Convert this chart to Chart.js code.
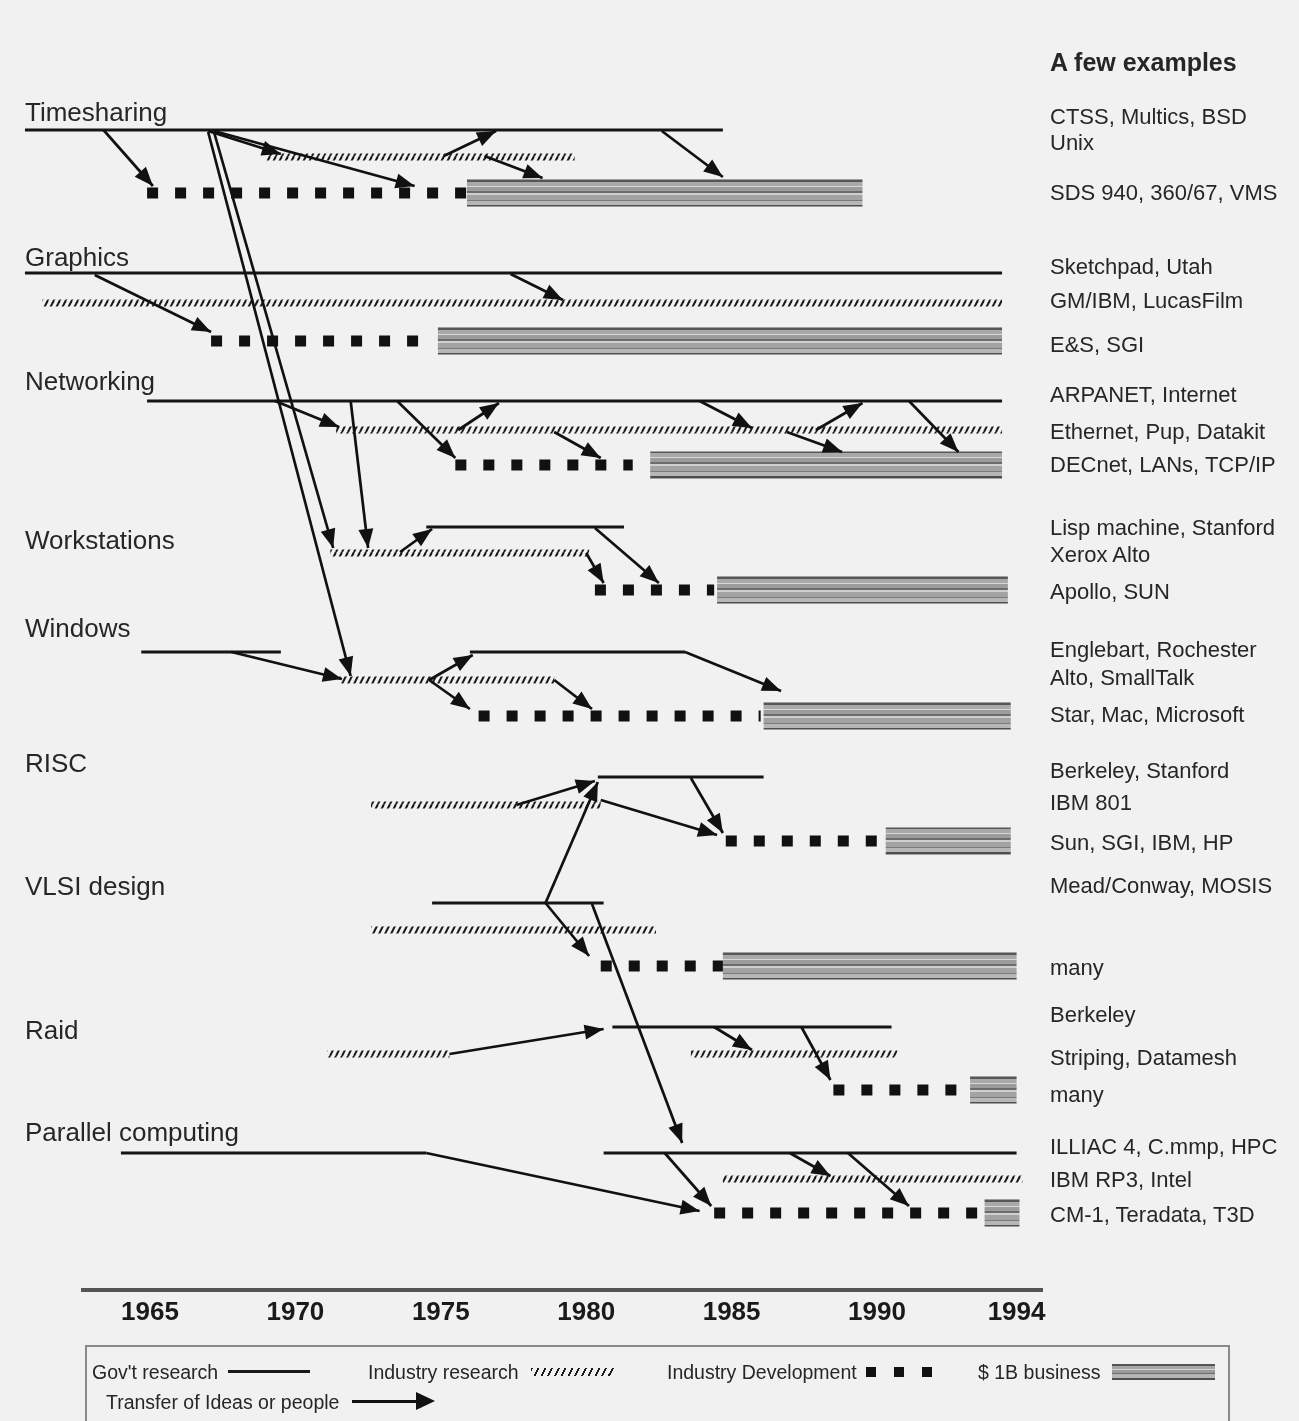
<!DOCTYPE html>
<html>
<head>
<meta charset="utf-8">
<script src="https://cdn.jsdelivr.net/npm/chart.js@4"></script>
<style>
  html,body{margin:0;padding:0;background:#f1f1f1;}
  #wrap{position:relative;width:1299px;height:1421px;overflow:hidden;background:#f1f1f1;
        font-family:"Liberation Sans", Arial, sans-serif;color:#262626;}
  #c{position:absolute;left:0;top:0;}
  .t{position:absolute;white-space:nowrap;font-size:26px;line-height:26px;}
  .e{position:absolute;white-space:nowrap;font-size:22px;line-height:22px;left:1050px;}
  .h{position:absolute;white-space:nowrap;font-size:25px;line-height:25px;font-weight:bold;left:1050px;top:50px;}
  .lg{position:absolute;white-space:nowrap;font-size:19.5px;line-height:20px;}
  #legend{position:absolute;left:85px;top:1345px;width:1141px;height:120px;border:2px solid #8a8a8a;}
</style>
</head>
<body>
<div id="wrap">
  <canvas id="c" width="1299" height="1421"></canvas>

  <div class="t" style="left:25px;top:99px">Timesharing</div>
  <div class="t" style="left:25px;top:244px">Graphics</div>
  <div class="t" style="left:25px;top:368px">Networking</div>
  <div class="t" style="left:25px;top:527px">Workstations</div>
  <div class="t" style="left:25px;top:615px">Windows</div>
  <div class="t" style="left:25px;top:750px">RISC</div>
  <div class="t" style="left:25px;top:873px">VLSI design</div>
  <div class="t" style="left:25px;top:1017px">Raid</div>
  <div class="t" style="left:25px;top:1119px">Parallel computing</div>

  <div class="h">A few examples</div>
  <div class="e" style="top:106px">CTSS, Multics, BSD</div>
  <div class="e" style="top:132px">Unix</div>
  <div class="e" style="top:182px">SDS 940, 360/67, VMS</div>
  <div class="e" style="top:256px">Sketchpad, Utah</div>
  <div class="e" style="top:290px">GM/IBM, LucasFilm</div>
  <div class="e" style="top:334px">E&amp;S, SGI</div>
  <div class="e" style="top:384px">ARPANET, Internet</div>
  <div class="e" style="top:421px">Ethernet, Pup, Datakit</div>
  <div class="e" style="top:454px">DECnet, LANs, TCP/IP</div>
  <div class="e" style="top:517px">Lisp machine, Stanford</div>
  <div class="e" style="top:544px">Xerox Alto</div>
  <div class="e" style="top:581px">Apollo, SUN</div>
  <div class="e" style="top:639px">Englebart, Rochester</div>
  <div class="e" style="top:667px">Alto, SmallTalk</div>
  <div class="e" style="top:704px">Star, Mac, Microsoft</div>
  <div class="e" style="top:760px">Berkeley, Stanford</div>
  <div class="e" style="top:792px">IBM 801</div>
  <div class="e" style="top:832px">Sun, SGI, IBM, HP</div>
  <div class="e" style="top:875px">Mead/Conway, MOSIS</div>
  <div class="e" style="top:957px">many</div>
  <div class="e" style="top:1004px">Berkeley</div>
  <div class="e" style="top:1047px">Striping, Datamesh</div>
  <div class="e" style="top:1084px">many</div>
  <div class="e" style="top:1136px">ILLIAC 4, C.mmp, HPC</div>
  <div class="e" style="top:1169px">IBM RP3, Intel</div>
  <div class="e" style="top:1204px">CM-1, Teradata, T3D</div>

  <div id="legend"></div>
  <div class="lg" style="left:92px;top:1362px">Gov't research</div>
  <div style="position:absolute;left:228px;top:1370px;width:82px;height:3px;background:#1a1a1a"></div>
  <div class="lg" style="left:368px;top:1362px">Industry research</div>
  <div style="position:absolute;left:531px;top:1368px;width:84px;height:8px;background:repeating-linear-gradient(117deg,#1a1a1a 0 1.8px,transparent 1.8px 6px)"></div>
  <div class="lg" style="left:667px;top:1362px">Industry Development</div>
  <div style="position:absolute;left:866px;top:1367px;width:76px;height:10px;background:repeating-linear-gradient(90deg,#111 0 10px,transparent 10px 28px)"></div>
  <div class="lg" style="left:978px;top:1362px">$ 1B business</div>
  <div style="position:absolute;left:1112px;top:1364px;width:103px;height:16px;background:linear-gradient(180deg,#555 0 2px,#a6a6a6 2px 5px,#d6d6d6 5px 6px,#9a9a9a 6px 9px,#6e6e6e 9px 10px,#b4b4b4 10px 14px,#4e4e4e 14px 16px)"></div>
  <div class="lg" style="left:106px;top:1392px">Transfer of Ideas or people</div>
  <div style="position:absolute;left:352px;top:1400px;width:66px;height:3px;background:#111"></div>
  <div style="position:absolute;left:416px;top:1392px;width:0;height:0;border-top:9px solid transparent;border-bottom:9px solid transparent;border-left:19px solid #111"></div>
</div>

<script>
// ---------------- DATA ----------------
const areas = ["Timesharing","Graphics","Networking","Workstations","Windows","RISC","VLSI design","Raid","Parallel computing"];

// lane positions (rows, top = 0) for each area
const govLane = [13.0, 27.3, 40.1, 52.7, 65.2, 77.7, 90.3, 102.7, 115.3];
const indLane = [15.7, 30.3, 43.0, 55.3, 68.0, 80.5, 93.0, 105.4, 117.9];
const devLane = [19.3, 34.1, 46.5, 59.0, 71.6, 84.1, 96.6, 109.0, 121.3];

// Gov't research spans [start year, end year]
const govSpans = [
  [[1960.7,1984.7]],
  [[1960.7,1994.3]],
  [[1964.9,1994.3]],
  [[1974.5,1981.3]],
  [[1964.7,1969.5],[1976.0,1983.4]],
  [[1980.4,1986.1]],
  [[1974.7,1980.6]],
  [[1980.9,1990.5]],
  [[1964.0,1974.5],[1980.6,1994.8]]
];
// Industry research spans
const indSpans = [
  [[1969.0,1979.6]],
  [[1961.3,1994.3]],
  [[1971.4,1994.3]],
  [[1971.2,1980.1]],
  [[1971.5,1978.9]],
  [[1972.6,1980.5]],
  [[1972.6,1982.4]],
  [[1971.1,1975.3],[1983.6,1990.7]],
  [[1984.7,1995.0]]
];
// Industry development spans
const devSpans = [
  [[1964.9,1975.9]],
  [[1967.1,1974.5]],
  [[1975.5,1981.6]],
  [[1980.3,1984.4]],
  [[1976.3,1986.0]],
  [[1984.8,1990.0]],
  [[1980.5,1984.7]],
  [[1988.5,1992.9]],
  [[1984.4,1993.6]]
];
// $1B business spans
const bizSpans = [
  [[1975.9,1989.5]],
  [[1974.9,1994.3]],
  [[1982.2,1994.3]],
  [[1984.5,1994.5]],
  [[1986.1,1994.6]],
  [[1990.3,1994.6]],
  [[1984.7,1994.8]],
  [[1993.2,1994.8]],
  [[1993.7,1994.9]]
];
// Transfer of ideas or people: [year, row] points, arrow at the last point
const transfers = [
  [[1963.4,13.0],[1965.1,18.6]],
  [[1967.0,13.1],[1969.5,15.4]],
  [[1967.2,13.1],[1974.1,18.6]],
  [[1975.1,15.6],[1976.9,13.1]],
  [[1976.5,15.6],[1978.5,17.8]],
  [[1982.6,13.1],[1984.7,17.7]],
  [[1967.0,13.2],[1971.9,67.6]],
  [[1967.2,13.2],[1971.3,54.8]],
  [[1963.1,27.5],[1967.1,33.2]],
  [[1977.4,27.4],[1979.2,30.0]],
  [[1969.3,40.1],[1971.5,42.7]],
  [[1971.9,40.1],[1972.5,54.8]],
  [[1973.5,40.1],[1975.5,45.8]],
  [[1975.6,43.0],[1977.0,40.3]],
  [[1978.9,43.2],[1980.5,45.8]],
  [[1983.9,40.1],[1985.7,42.8]],
  [[1986.9,43.2],[1988.8,45.2]],
  [[1987.9,43.0],[1989.5,40.3]],
  [[1991.1,40.1],[1992.8,45.2]],
  [[1973.6,55.2],[1974.7,52.9]],
  [[1980.0,55.3],[1980.6,58.3]],
  [[1980.3,52.8],[1982.5,58.3]],
  [[1967.8,65.2],[1971.6,67.9]],
  [[1974.6,68.0],[1976.1,65.5]],
  [[1974.6,68.0],[1976.0,70.9]],
  [[1978.9,68.0],[1980.2,70.9]],
  [[1983.4,65.2],[1986.7,69.1]],
  [[1977.6,80.5],[1980.3,78.1]],
  [[1980.5,80.0],[1984.5,83.5]],
  [[1983.6,77.8],[1984.7,83.3]],
  [[1978.6,90.3],[1980.4,78.2]],
  [[1978.6,90.3],[1980.1,95.6]],
  [[1980.2,90.4],[1983.3,114.3]],
  [[1975.3,105.4],[1980.6,102.9]],
  [[1984.4,102.7],[1985.7,105.0]],
  [[1987.4,102.7],[1988.4,108.0]],
  [[1974.5,115.3],[1983.9,121.1]],
  [[1982.7,115.3],[1984.3,120.6]],
  [[1987.0,115.3],[1988.4,117.6]],
  [[1989.0,115.3],[1991.1,120.6]]
];

const tickValues = [1965, 1970, 1975, 1980, 1985, 1990, 1994.8];
const tickLabels = ["1965","1970","1975","1980","1985","1990","1994"];

// ---------------- STYLES ----------------
function hatchPattern(){
  const c = document.createElement('canvas'); c.width = 6; c.height = 12;
  const g = c.getContext('2d');
  g.strokeStyle = '#1a1a1a'; g.lineWidth = 2;
  [-6,0,6].forEach(dx=>{ g.beginPath(); g.moveTo(dx,12); g.lineTo(dx+6,0); g.stroke(); });
  return g.createPattern(c,'repeat');
}
function bizPattern(){
  const c = document.createElement('canvas'); c.width = 4; c.height = 27;
  const g = c.getContext('2d');
  const rows = [[0,2,'#575757'],[2,4,'#a9a9a9'],[6,1,'#d8d8d8'],[7,4,'#9c9c9c'],[11,2,'#6c6c6c'],
                [13,2,'#cfcfcf'],[15,5,'#a3a3a3'],[20,1,'#7a7a7a'],[21,4,'#b7b7b7'],[25,2,'#4e4e4e']];
  rows.forEach(([y,h,col])=>{ g.fillStyle = col; g.fillRect(0,y,4,h); });
  return g.createPattern(c,'repeat');
}
const hatch = hatchPattern();

const datasets = [];
const base = {pointRadius:0, pointHoverRadius:0, tension:0, fill:false, clip:false, borderCapStyle:'butt'};

transfers.forEach(pts=>{
  datasets.push(Object.assign({}, base, {kind:'arrow', order:0,
    data: pts.map(([x,y])=>({x,y})), borderColor:'#111', borderWidth:2.7}));
});
areas.forEach((name,i)=>{
  govSpans[i].forEach(([a,b])=>datasets.push(Object.assign({}, base, {order:1, label:name+' gov',
    data:[{x:a,y:govLane[i]},{x:b,y:govLane[i]}], borderColor:'#151515', borderWidth:3})));
  indSpans[i].forEach(([a,b])=>datasets.push(Object.assign({}, base, {order:2, label:name+' ind',
    data:[{x:a,y:indLane[i]},{x:b,y:indLane[i]}], borderColor:hatch, borderWidth:7})));
  devSpans[i].forEach(([a,b])=>datasets.push(Object.assign({}, base, {order:3, label:name+' dev',
    data:[{x:a,y:devLane[i]},{x:b,y:devLane[i]}], borderColor:'#111', borderWidth:11, borderDash:[11,17]})));
  bizSpans[i].forEach(([a,b])=>datasets.push(Object.assign({}, base, {order:4, kind:'biz', label:name+' biz',
    data:[{x:a,y:devLane[i]},{x:b,y:devLane[i]}], borderColor:bizPattern(), borderWidth:27})));
});

const bizAlign = {
  id:'bizAlign',
  beforeDatasetsDraw(chart){
    const ys = chart.scales.y;
    chart.data.datasets.forEach(ds=>{
      if(ds.kind==='biz'){
        const py = ys.getPixelForValue(ds.data[0].y);
        ds.borderColor.setTransform(new DOMMatrix([1,0,0,1,0,Math.round(py-13.5)]));
      }
    });
  }
};
const arrowHeads = {
  id:'arrowHeads',
  afterDatasetsDraw(chart){
    const ctx = chart.ctx;
    chart.data.datasets.forEach((ds,i)=>{
      if(ds.kind!=='arrow') return;
      const pts = chart.getDatasetMeta(i).data;
      const a = pts[pts.length-2], b = pts[pts.length-1];
      const ang = Math.atan2(b.y-a.y, b.x-a.x);
      const L = 19, W = 7.5;
      const bx = b.x - L*Math.cos(ang), by = b.y - L*Math.sin(ang);
      ctx.save();
      ctx.fillStyle = '#111';
      ctx.beginPath();
      ctx.moveTo(b.x,b.y);
      ctx.lineTo(bx - W*Math.sin(ang), by + W*Math.cos(ang));
      ctx.lineTo(bx + W*Math.sin(ang), by - W*Math.cos(ang));
      ctx.closePath();
      ctx.fill();
      ctx.restore();
    });
  }
};

new Chart(document.getElementById('c'), {
  type:'line',
  data:{datasets},
  plugins:[bizAlign, arrowHeads],
  options:{
    responsive:false,
    animation:false,
    events:[],
    layout:{padding:{left:83,right:257,top:0,bottom:91}},
    plugins:{legend:{display:false}, tooltip:{enabled:false}},
    scales:{
      x:{
        type:'linear',
        min:1962.696, max:1995.674,
        grid:{display:false, drawTicks:false},
        border:{display:true, color:'#555', width:4},
        afterBuildTicks(scale){ scale.ticks = tickValues.map(v=>({value:v})); },
        afterFit(scale){ scale.height = 40; },
        ticks:{
          autoSkip:false, maxRotation:0, padding:7,
          color:'#1a1a1a',
          font:{family:'"Liberation Sans", Arial, sans-serif', size:26, weight:'bold'},
          callback:(v,i)=>tickLabels[i]
        }
      },
      y:{type:'linear', display:false, reverse:true, min:0, max:129}
    }
  }
});
</script>
</body>
</html>
